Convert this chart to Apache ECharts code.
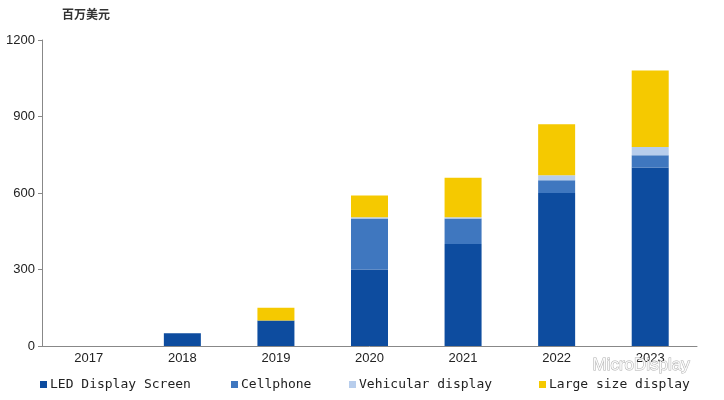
<!DOCTYPE html>
<html><head><meta charset="utf-8">
<script src="https://cdn.jsdelivr.net/npm/echarts@6/dist/echarts.min.js"></script>
<style>html,body{margin:0;padding:0;background:#fff}#c{width:724px;height:400px}</style>
</head><body><div id="c"></div>
<script>
const categories = ['2017','2018','2019','2020','2021','2022','2023'];
const ledScreen = [0, 50, 100, 300, 400, 600, 700];
const cellphone = [0, 0, 0, 200, 100, 50, 48];
const vehicular = [0, 0, 0, 5, 5, 20, 32];
const largeSize = [0, 0, 50, 85, 155, 200, 300];
const yTicks = { min: 0, max: 1200, interval: 300 };
const seriesNames = ['LED Display Screen','Cellphone','Vehicular display','Large size display'];
const colors = ['#0d4c9f','#3f77bf','#b7cdec','#f5c900'];

const chart = echarts.init(document.getElementById('c'));
const legendLefts = [35, 226, 344, 534];
const mono = "'DejaVu Sans Mono', monospace";
chart.setOption({
  animation: false,
  grid: { left: 42, right: 27, top: 40, bottom: 54 },
  legend: seriesNames.map((n, i) => ({
    data: [n], left: legendLefts[i], top: 373, itemWidth: 7, itemHeight: 7, itemGap: 0,
    icon: 'rect', textStyle: { fontFamily: mono, fontSize: 13, color: '#222', padding: [0,0,0,-2] }
  })),
  xAxis: {
    type: 'category', data: categories,
    axisLine: { lineStyle: { color: '#888', width: 1 } },
    axisTick: { show: false },
    axisLabel: { color: '#222', fontSize: 13, margin: 6, fontFamily: "'Liberation Sans Narrow','Liberation Sans',sans-serif" }
  },
  yAxis: {
    type: 'value', min: yTicks.min, max: yTicks.max, interval: yTicks.interval,
    splitLine: { show: false },
    axisLine: { show: true, lineStyle: { color: '#888' } },
    axisTick: { show: true, length: 4, lineStyle: { color: '#888' } },
    axisLabel: { color: '#222', fontSize: 13, margin: 7, formatter: v => String(v), fontFamily: "'Liberation Sans Narrow','Liberation Sans',sans-serif" }
  },
  graphic: [
    { type: 'text', left: 62, top: 8, style: { text: '百万美元', fontSize: 12, fill: '#333', fontWeight: 'bold', fontFamily: "'Noto Sans CJK SC'" } },
    { type: 'text', left: 592, top: 356, z: 100, style: { text: 'MicroDisplay', fontSize: 17, fill: 'rgba(255,255,255,0.9)', stroke: 'rgba(120,120,120,0.6)', lineWidth: 1, fontFamily: "'Liberation Sans',sans-serif" } }
  ],
  series: [ledScreen, cellphone, vehicular, largeSize].map((d, i) => ({
    name: seriesNames[i], type: 'bar', stack: 'total', data: d, barWidth: 37,
    itemStyle: { color: colors[i] }
  }))
});
</script></body></html>
